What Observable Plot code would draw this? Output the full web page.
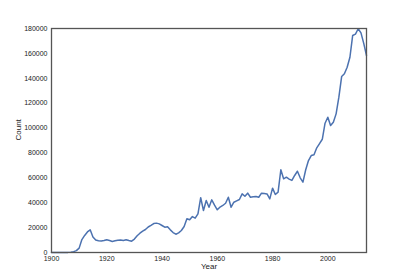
<!DOCTYPE html>
<html><head><meta charset="utf-8">
<script src="https://cdn.jsdelivr.net/npm/d3@7"></script>
<script src="https://cdn.jsdelivr.net/npm/@observablehq/plot@0.6"></script>
<style>
body{margin:0;background:#fff;}
#chart svg{display:block;}
</style>
</head><body><div id="chart"></div>
<script>
const years = d3.range(1900, 2015);
const counts = [
  0, 0, 0, 0, 0, 0, 100, 300, 700, 1500,            // 1900-1909
  3500, 10400, 13700, 16500, 18200, 12500, 10000, 9400, 9200, 9600, // 1910-1919
  10200, 9600, 8900, 9400, 9900, 10000, 9700, 10200, 9600, 9100,     // 1920-1929
  10800, 13500, 15500, 17200, 18500, 20500, 21800, 23300, 23600, 23000, // 1930-1939
  21700, 20300, 20600, 18200, 16000, 14700, 15800, 17700, 20900, 27100, // 1940-1949
  26300, 28900, 27600, 31000, 44000, 33700, 41800, 36400, 42300, 38000, // 1950-1959
  34300, 36500, 37800, 39600, 44400, 36400, 40400, 41500, 42600, 47100, // 1960-1969
  45200, 47700, 44400, 44800, 45000, 44400, 47700, 47400, 47100, 43100, // 1970-1979
  51700, 46600, 48500, 66500, 59200, 60500, 59000, 57900, 61900, 65300, // 1980-1989
  60000, 56500, 66500, 73900, 77900, 78500, 84100, 87500, 91000, 103900, // 1990-1999
  108700, 102000, 104700, 111400, 124800, 141400, 143600, 148900, 156900, 174400, // 2000-2009
  175500, 179800, 176500, 168000, 158300 // 2010-2014
];
const yTicks = d3.range(0, 180001, 20000);
const xTicks = [1900, 1920, 1940, 1960, 1980, 2000];
const xLabel = "Year";
const yLabel = "Count";
const data = years.map((y, i) => ({Year: y, Count: counts[i]}));

const chart = Plot.plot({
  width: 407,
  height: 280,
  marginLeft: 51,
  marginRight: 41,
  marginTop: 28,
  marginBottom: 28,
  style: {fontFamily: "Liberation Sans, Arial, sans-serif", fontSize: "7px", color: "#222", background: "#fff"},
  x: {domain: [1900, 2014], ticks: xTicks, tickFormat: d => String(d), tickSize: 0, tickPadding: 4, label: null},
  y: {domain: [0, 180000], ticks: yTicks, tickFormat: d => String(d), tickSize: 0, tickPadding: 4, label: null},
  marks: [
    Plot.line(data, {x: "Year", y: "Count", stroke: "#4c72b0", strokeWidth: 1.5}),
    Plot.frame({stroke: "#555", strokeWidth: 1.3}),
    Plot.text([xLabel], {frameAnchor: "bottom", dy: 16, fontSize: 8, fill: "#222"}),
    Plot.text([yLabel], {frameAnchor: "left", dx: -33, rotate: -90, fontSize: 8, fill: "#222"})
  ]
});
document.getElementById("chart").appendChild(chart);
</script>
</body></html>
